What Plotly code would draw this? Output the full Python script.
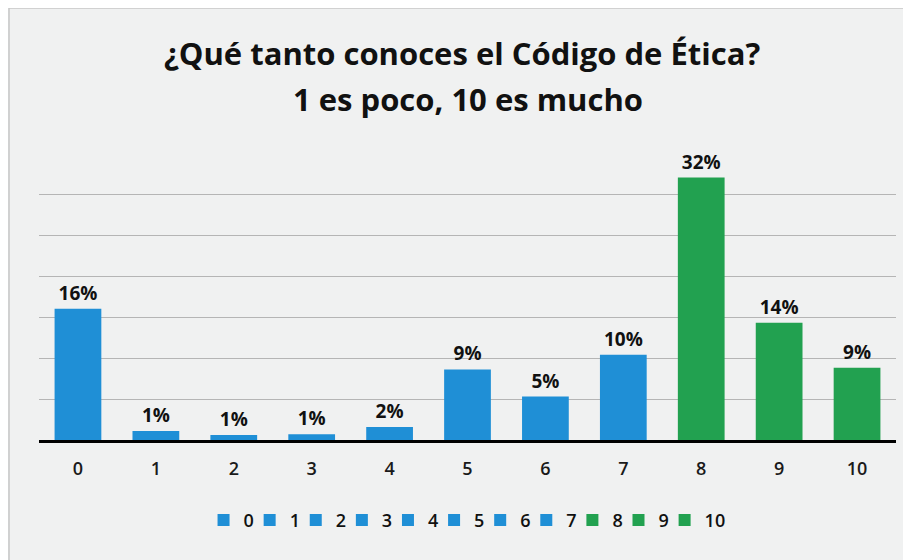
import plotly.graph_objects as go

categories = ["0", "1", "2", "3", "4", "5", "6", "7", "8", "9", "10"]
labels = ["16%", "1%", "1%", "1%", "2%", "9%", "5%", "10%", "32%", "14%", "9%"]
bar_heights = [16, 1.1, 0.6, 0.7, 1.6, 8.6, 5.3, 10.4, 32, 14.3, 8.8]
colors = ["#1f8fd6"] * 8 + ["#22a150"] * 3
title_line1 = "¿Qué tanto conoces el Código de Ética?"
title_line2 = "1 es poco, 10 es mucho"

legend_font = dict(family="Open Sans", size=18, color="#111111", weight=600)
legend_ids = ["legend" if i == 0 else f"legend{i + 1}" for i in range(len(categories))]

fig = go.Figure()
for i, (c, h, lab, col) in enumerate(zip(categories, bar_heights, labels, colors)):
    fig.add_trace(go.Bar(
        x=[c], y=[h], name=c, text=[lab], textposition="outside",
        textfont=dict(family="Open Sans", size=19, color="#111111", weight="bold"),
        marker=dict(color=col, line=dict(width=0)),
        offsetgroup="g", width=0.6, cliponaxis=False,
        legend=legend_ids[i],
    ))

legend_layouts = {}
for i, lid in enumerate(legend_ids):
    legend_layouts[lid] = dict(
        orientation="h", x=0.192 + i * 0.0538, xanchor="left", y=-0.28, yanchor="middle",
        font=legend_font, itemwidth=30, tracegroupgap=0, bgcolor="rgba(0,0,0,0)",
    )

fig.update_layout(
    width=911, height=560,
    margin=dict(l=31, r=23, t=145, b=128),
    paper_bgcolor="#f0f1f1", plot_bgcolor="#f0f1f1",
    barmode="overlay",
    xaxis=dict(
        type="category", categoryorder="array", categoryarray=categories,
        showline=True, linecolor="#000000", linewidth=3,
        tickfont=dict(family="Open Sans", size=18, color="#1a1a1a", weight=600),
        ticks="", showgrid=False, ticklabelstandoff=10,
    ),
    yaxis=dict(
        range=[0, 35], dtick=5, showticklabels=False, showgrid=True,
        gridcolor="#b5b5b5", gridwidth=1, zeroline=False,
    ),
    showlegend=True,
    annotations=[
        dict(text="<b>" + title_line1 + "</b>", x=0.494, y=1.35, xref="paper", yref="paper",
             xanchor="center", yanchor="middle", showarrow=False,
             font=dict(family="Open Sans", size=31, color="#111111")),
        dict(text="<b>" + title_line2 + "</b>", x=0.5, y=1.188, xref="paper", yref="paper",
             xanchor="center", yanchor="middle", showarrow=False,
             font=dict(family="Open Sans", size=31, color="#111111")),
    ],
    shapes=[
        dict(type="rect", xref="paper", yref="paper", x0=-0.035, x1=1.2, y0=-0.6, y1=1.505,
             line=dict(color="#c6c6c6", width=1.5), fillcolor="rgba(0,0,0,0)", layer="below"),
    ],
    **legend_layouts,
)

fig.write_html("out.html")
